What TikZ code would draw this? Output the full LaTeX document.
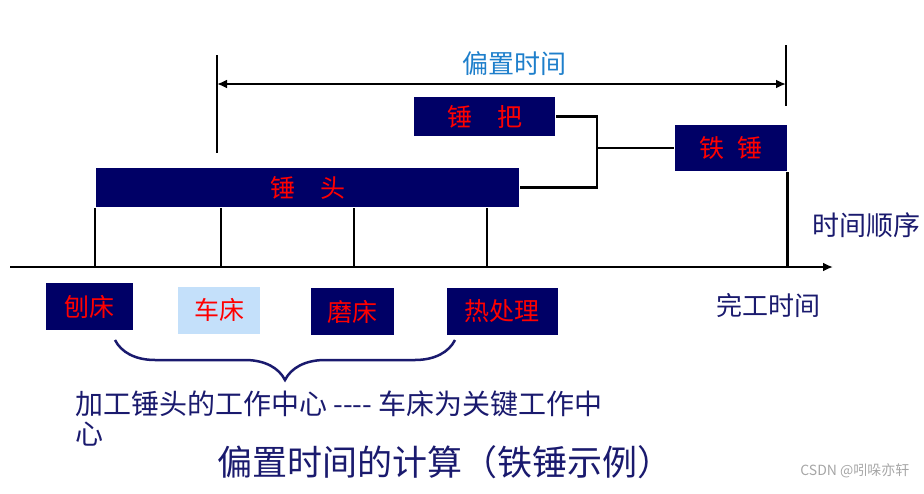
\documentclass[tikz,border=0pt]{standalone}
\usepackage{fontspec}
\setmainfont{Noto Sans CJK SC}
\usetikzlibrary{arrows.meta,decorations.pathreplacing}
\definecolor{boxnavy}{HTML}{000066}
\definecolor{textnavy}{HTML}{1A1A6E}
\definecolor{offsetblue}{HTML}{1E7FCB}
\definecolor{latheblue}{HTML}{C4E0FA}
\newcommand{\fsz}[1]{\fontsize{#1}{#1}\selectfont}

\begin{document}
\begin{tikzpicture}[x=1pt, y=-1pt, line width=2.5pt,
    part/.style={fill=boxnavy, text=red, inner sep=0pt, font=\fsz{25}},
    tip/.style={-{Latex[length=10pt,width=9pt]}}]
    \useasboundingbox (0,0) rectangle (924,493);
    % assembly boxes
    \node[part, minimum width=423pt, minimum height=39pt] (head) at (307.5,187.5) {锤　头};
    \node[part, minimum width=141pt, minimum height=39pt] (handle) at (484.5,116.5) {锤　把};
    \node[part, minimum width=112pt, minimum height=46pt] (hammer) at (731,148) {铁\hspace{0.5em}锤};
    \draw (handle.east) -| (597,148) coordinate (join) |- (head.east);
    \draw (join) -- (hammer.west);
    % time axis
    \coordinate (axisL) at (10,267);
    \coordinate (axisR) at (833,267);
    \draw[tip] (axisL) -- (axisR);
    \foreach \x in {95,221,354,487}
        \draw (\x,0 |- head.south) -- (\x,0 |- axisL);
    \draw ([xshift=-1pt]hammer.south east) -- ([xshift=-1pt]hammer.south east |- axisL);
    \node[anchor=west, text=textnavy, font=\fsz{27}] (order) at (808,225) {时间顺序};
    \node[text=textnavy, font=\fsz{26}] (finish) at (768,306) {完工时间};
    % offset time
    \coordinate (offL) at (217,84);
    \coordinate (offR) at (786,84);
    \draw (217,55) -- (217,153);
    \draw (786,45) -- (786,106);
    \draw[{Latex[length=10pt,width=9pt]}-{Latex[length=10pt,width=9pt]}] (offL) -- (offR);
    \node[text=offsetblue, font=\fsz{26}] (offset) at (514,64) {偏置时间};
    % work centers
    \node[part, minimum width=87pt, minimum height=47pt] (planer) at (89.5,306.5) {刨床};
    \node[part, fill=latheblue, minimum width=82pt, minimum height=47pt] (lathe) at (219,310) {车床};
    \node[part, minimum width=83pt, minimum height=47pt] (grinder) at (352.5,311.5) {磨床};
    \node[part, minimum width=111pt, minimum height=47pt] (heat) at (502,311.5) {热处理};
    \draw[textnavy, decorate, decoration={brace, amplitude=40pt, aspect=0.5}] (455,340) -- (115,340);
    \node[anchor=north west, align=left, inner sep=0pt, text=textnavy, font=\fontsize{28}{30}\selectfont] (note) at (74,390) {加工锤头的工作中心 -{}-{}-{}- 车床为关键工作中\\心};
    \node[text=textnavy, font=\fsz{35}] (title) at (445,462) {偏置时间的计算（铁锤示例）};
    \node[anchor=east, text=gray!70, font=\fsz{14}] (mark) at (914,471) {CSDN @吲哚亦轩};
\end{tikzpicture}
\end{document}
